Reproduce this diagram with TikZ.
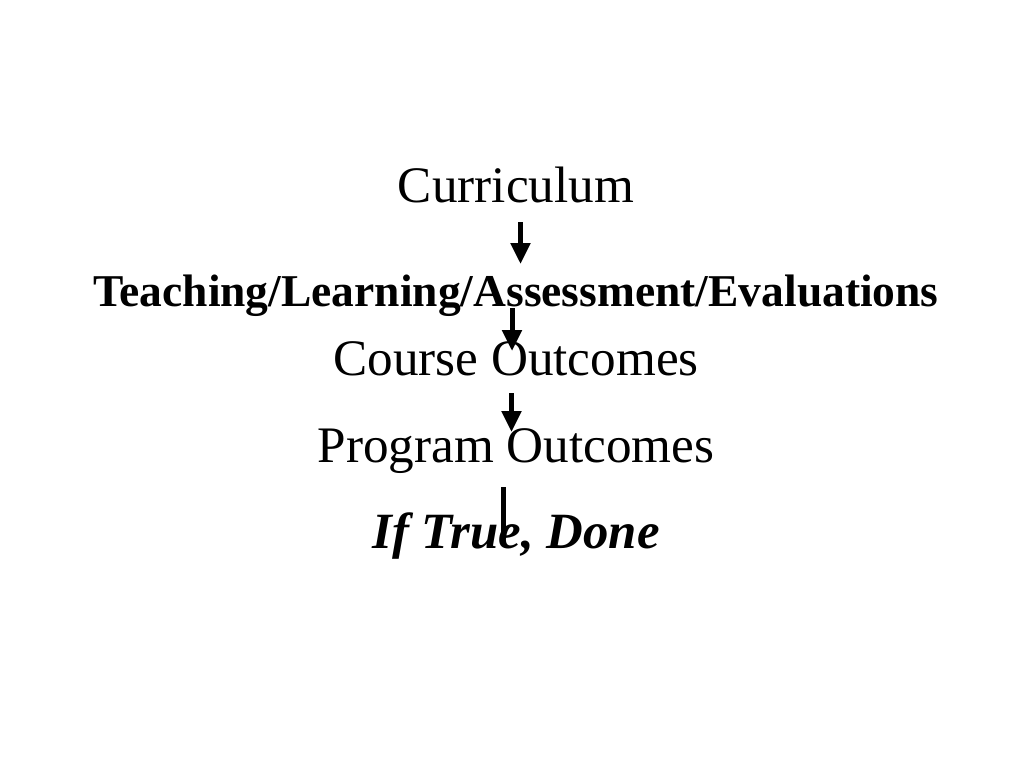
\documentclass[tikz,border=0pt]{standalone}
\usepackage{fontspec}
\setmainfont{Liberation Serif}
\usetikzlibrary{arrows.meta}
\tikzset{
  lbl/.style={anchor=base, inner sep=0pt, outer sep=0pt},
  big/.style={font=\fontsize{51.2}{60}\selectfont},
  midbold/.style={font=\fontsize{45.5}{54}\selectfont\bfseries},
  flowarrow/.style={line width=5pt, -{Triangle[width=19pt,length=21pt]}},
  flowline/.style={line width=5pt},
}
\begin{document}
\begin{tikzpicture}[x=1pt,y=-1pt]
\useasboundingbox (0,0) rectangle (1024,768);
\fill[white] (0,0) rectangle (1024,768);
\node[lbl,big] (cur) at (516,202) {Curriculum};
\node[lbl,midbold] (tla) at (516,306.5) {Teaching/Learning/Assessment/Evaluations};
\node[lbl,big] (co) at (516,375.5) {Course Outcomes};
\node[lbl,big] (po) at (516,462) {Program Outcomes};
\node[lbl,font=\fontsize{50.8}{60}\selectfont\bfseries\itshape] (done) at (516,548) {If True, Done};
\coordinate (a1s) at (520.5,222);
\coordinate (a1e) at (520.5,264);
\coordinate (a2s) at (512,308);
\coordinate (a2e) at (512,351);
\coordinate (a3s) at (511.5,393);
\coordinate (a3e) at (511.5,432);
\coordinate (a4s) at (503.5,487);
\coordinate (a4e) at (503.5,538);
\draw[flowarrow] (a1s) -- (a1e);
\draw[flowarrow] (a2s) -- (a2e);
\draw[flowarrow] (a3s) -- (a3e);
\draw[flowline] (a4s) -- (a4e);
\end{tikzpicture}
\end{document}
